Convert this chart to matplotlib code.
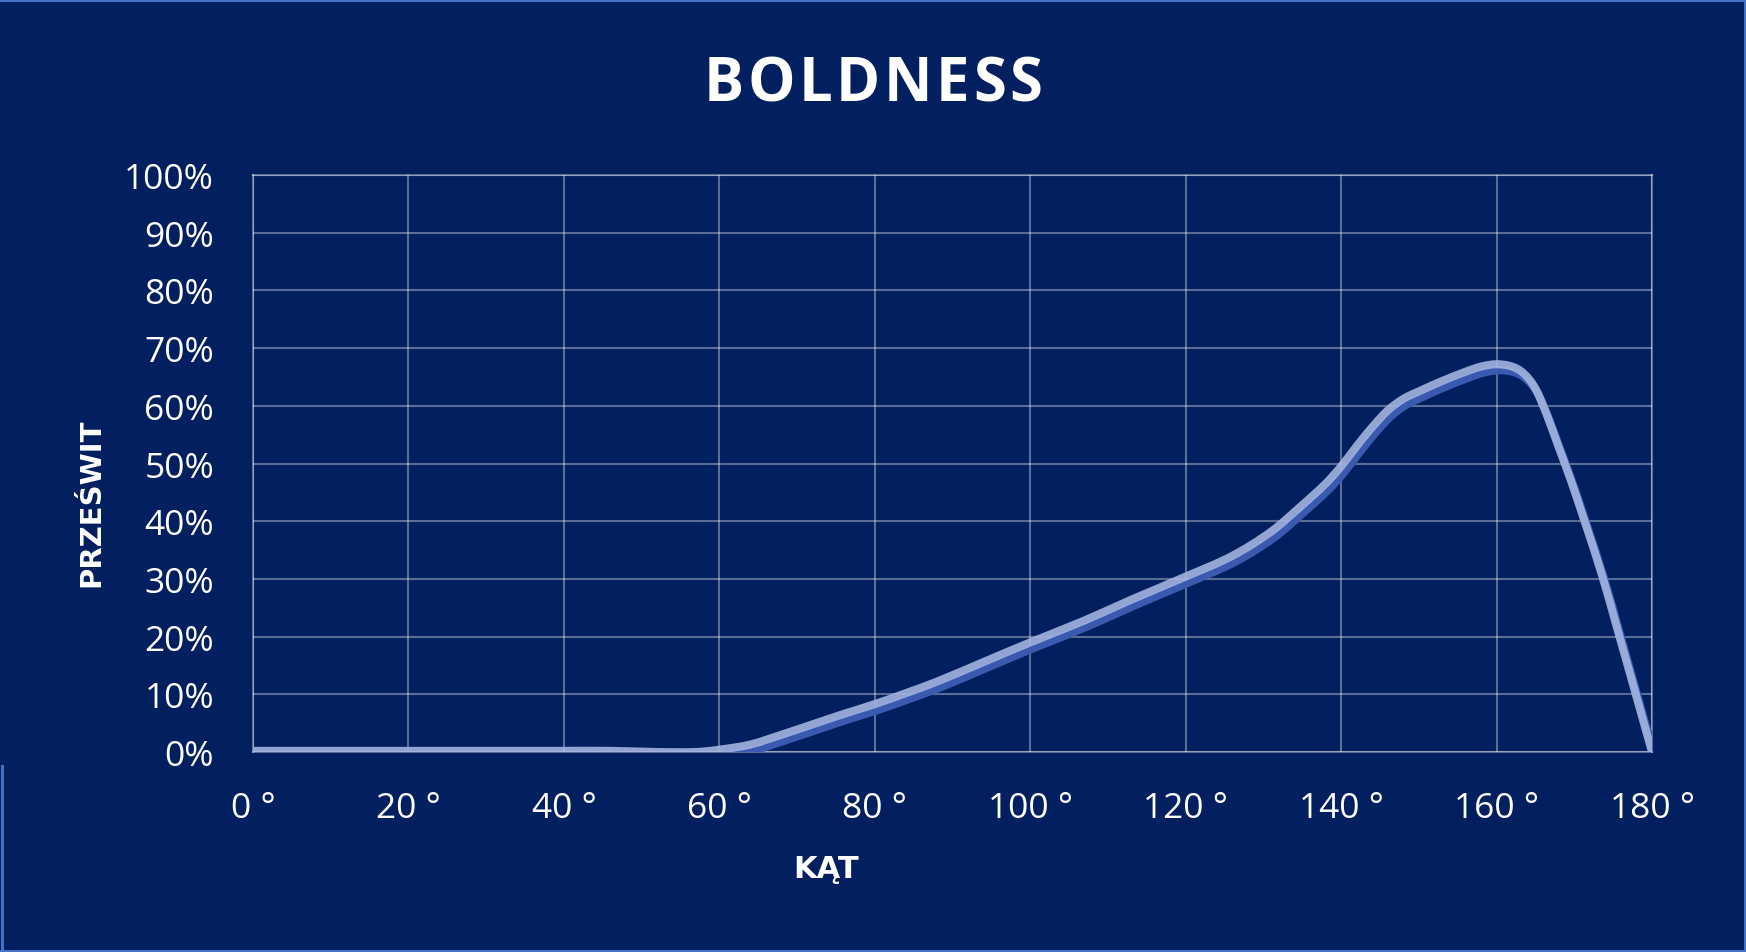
import matplotlib
matplotlib.use("Agg")
import matplotlib.pyplot as plt
import matplotlib.transforms as mtransforms
from matplotlib.lines import Line2D
from matplotlib.path import Path
from matplotlib.patches import PathPatch

# light transmission vs angle
angles = [0, 10, 20, 30, 40, 46, 52, 57, 60, 64, 68, 72, 76, 80, 84, 88, 94, 100,
          107, 113, 120, 126, 131, 135, 138, 140, 142, 144, 146, 148, 150, 153, 156,
          158, 160, 162, 163.5, 165, 166.5, 168, 169.5, 171.2, 173.6, 175.5, 177.6, 180]
values = [0.2, 0.2, 0.2, 0.2, 0.2, 0.2, 0.0, 0.0, 0.4, 1.3, 3.0, 4.8, 6.6, 8.3, 10.2, 12.2, 15.6, 19.0,
          22.8, 26.4, 30.4, 34.0, 38.2, 42.8, 46.5, 49.5, 53.0, 56.3, 59.2, 61.2, 62.5, 64.3, 65.9,
          66.8, 67.2, 66.8, 65.6, 63.0, 58.3, 52.8, 47.3, 40.5, 30.5, 21.5, 11.5, 0.0]

x_ticks = [0, 20, 40, 60, 80, 100, 120, 140, 160, 180]
y_ticks = [0, 10, 20, 30, 40, 50, 60, 70, 80, 90, 100]
title = "BOLDNESS"

bg = "#021f60"
border = "#4472c4"


def smooth_path(xs, ys):
    # cubic bezier through the points, like a "smoothed line" in a spreadsheet
    n = len(xs)
    m = []
    for i in range(n):
        if i == 0:
            m.append((ys[1] - ys[0]) / (xs[1] - xs[0]))
        elif i == n - 1:
            m.append((ys[-1] - ys[-2]) / (xs[-1] - xs[-2]))
        else:
            m.append((ys[i + 1] - ys[i - 1]) / (xs[i + 1] - xs[i - 1]))
    verts = [(xs[0], ys[0])]
    codes = [Path.MOVETO]
    for i in range(n - 1):
        h = xs[i + 1] - xs[i]
        verts += [(xs[i] + h / 3, ys[i] + m[i] * h / 3),
                  (xs[i + 1] - h / 3, ys[i + 1] - m[i + 1] * h / 3),
                  (xs[i + 1], ys[i + 1])]
        codes += [Path.CURVE4] * 3
    return Path(verts, codes)


W, H = 1746, 953
fig = plt.figure(figsize=(W / 100, H / 100), dpi=100, facecolor=bg)
ax = fig.add_axes([253 / W, 1 - 753 / H, (1652 - 253) / W, (753 - 176) / H])
ax.set_facecolor(bg)

ax.set_xlim(0, 180)
ax.set_ylim(0, 100)
ax.set_xticks(x_ticks)
ax.set_yticks(y_ticks)
ax.set_xticklabels([f"{a} °" for a in x_ticks])
ax.set_yticklabels([f"{v}%" for v in y_ticks])
ax.tick_params(length=0, colors="white", labelsize=25.5)
ax.tick_params(axis="y", pad=28)
ax.tick_params(axis="x", pad=28)
for lab in ax.get_xticklabels() + ax.get_yticklabels():
    lab.set_fontfamily("Open Sans")

ax.grid(True, color="white", alpha=0.35, linewidth=1.5)
for s in ax.spines.values():
    s.set_color((1, 1, 1, 0.35))
    s.set_linewidth(1.5)

curve = smooth_path(angles, values)
# shadow line, shifted a few pixels down-right
shadow = mtransforms.offset_copy(ax.transData, fig=fig, x=3, y=-6, units="dots")
ax.add_patch(PathPatch(curve, fill=False, edgecolor="#3a5ab0", linewidth=5.8,
                       capstyle="round", transform=shadow, zorder=3))
ax.add_patch(PathPatch(curve, fill=False, edgecolor="#a7b7e2", alpha=0.88, linewidth=5.8,
                       capstyle="round", zorder=4))

# title with letter spacing: place each letter by hand
renderer = fig.canvas.get_renderer()
tkw = dict(color="white", fontsize=43, fontweight="bold", family="Open Sans", va="baseline")
spacing = 3.5
widths = []
for ch in title:
    t = fig.text(0, 0, ch, **tkw)
    widths.append(t.get_window_extent(renderer).width)
    t.remove()
total = sum(widths) + spacing * (len(title) - 1)
x = W / 2 - total / 2
for ch, w in zip(title, widths):
    fig.text(x / W, 1 - 101 / H, ch, ha="left", **tkw)
    x += w + spacing

fig.text(826 / W, 1 - 878 / H, "KĄT", ha="center", va="baseline", color="white",
         fontsize=22, fontweight="bold", family="DejaVu Sans")
fig.text(91 / W, 1 - 503 / H, "PRZEŚWIT", ha="center", va="center", rotation=90,
         color="white", fontsize=21, fontweight="bold", family="DejaVu Sans")

# slide border (left side only partly visible)
bw = 3 * 0.72
fig.add_artist(Line2D([0, 1], [1 - 1 / H, 1 - 1 / H], color=border, linewidth=bw,
                      transform=fig.transFigure))
fig.add_artist(Line2D([0, 1], [1.5 / H, 1.5 / H], color=border, linewidth=bw,
                      transform=fig.transFigure))
fig.add_artist(Line2D([1 - 1.5 / W, 1 - 1.5 / W], [0, 1], color=border, linewidth=bw,
                      transform=fig.transFigure))
fig.add_artist(Line2D([1.5 / W, 1.5 / W], [0, 1 - 767 / H], color=border, linewidth=bw,
                      transform=fig.transFigure))

fig.savefig("out.png", dpi=100, facecolor=bg)
